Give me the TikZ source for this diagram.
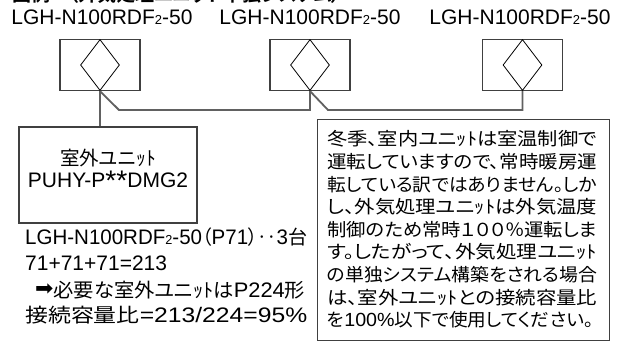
\documentclass[tikz,border=0pt]{standalone}
\usepackage{fontspec}
\usepackage{graphicx}
\setmainfont{Liberation Sans}
\newfontfamily\jp[RawFeature=+palt]{Noto Sans CJK JP}
\newfontfamily\jpb[RawFeature=+palt]{Noto Sans CJK JP Bold}
\newfontfamily\dv{DejaVu Sans}
\usetikzlibrary{shapes.geometric}
\newcommand\J[1]{{\jp\fontsize{19.5pt}{24pt}\selectfont #1}}
\newcommand\NJ[1]{{\jp\fontsize{18pt}{22pt}\selectfont #1}}
\newcommand\subtwo{{\fontsize{13pt}{13pt}\selectfont 2}}
\newcommand\myast{\raisebox{-0.3ex}{\scalebox{1.35}{*}}}
\newcommand\fitw[2]{\resizebox{#1}{\height}{#2}}
\tikzset{
  iu/.style={draw=black!75,line width=1.2pt,minimum width=80pt,minimum height=51pt,inner sep=0pt},
  dia/.style={diamond,draw=black,line width=0.8pt,minimum width=39pt,minimum height=51pt,inner sep=0pt},
  box/.style={draw=black!75,line width=1.2pt,inner sep=0pt},
  conn/.style={draw=black!62,line width=1.8pt},
  lbl/.style={inner sep=0pt,font=\fontsize{21pt}{25pt}\selectfont},
  ntxt/.style={inner sep=0pt,anchor=base west},
}
\begin{document}
\begin{tikzpicture}[x=1pt,y=-1pt]
\useasboundingbox[fill=white] (0,0) rectangle (624,345);
\begin{scope}
  \clip (0,0) rectangle (624,345);
  \node[inner sep=0pt,anchor=base west] (hdr) at (12,1.2)
    {{\jpb\fontsize{19pt}{22pt}\selectfont 図例　（外気処理ユニット単独システム）}};
\end{scope}
% model labels
\node[lbl,anchor=base] (l1) at (102,25) {LGH-N100RDF\subtwo-50};
\node[lbl,anchor=base] (l2) at (310,25) {LGH-N100RDF\subtwo-50};
\node[lbl,anchor=base] (l3) at (520,25) {LGH-N100RDF\subtwo-50};
% indoor units
\node[iu] (iu1) at (100,65) {};
\node[iu] (iu2) at (310,65) {};
\node[iu] (iu3) at (522.5,65) {};
\node[dia] (d1) at (iu1.center) {};
\node[dia] (d2) at (iu2.center) {};
\node[dia] (d3) at (iu3.center) {};
% outdoor unit
\node[box,minimum width=178pt,minimum height=96pt] (ou) at (108,175) {};
\node[inner sep=0pt,anchor=base] (ou1) at (108,165.4) {\J{室外ユニｯﾄ}};
\node[lbl,anchor=base] (ou2) at (108,187.5) {PUHY-P\myast\myast DMG2};
% connectors
\coordinate (k1) at (119,110);
\coordinate (k2) at (328,110);
\draw[conn] (iu1.south) -- (iu1.south |- ou.north);
\draw[conn] (iu1.south) -- (k1) -| (iu2.south);
\draw[conn] (iu2.south) -- (k2) -| (iu3.south);
% calculation text
\node[lbl,anchor=base west] (c1) at (25,244.5)
  {\fitw{282pt}{LGH-N100RDF\subtwo-50\J{（}P71\J{）‥}3\J{台}}};
\node[lbl,anchor=base west] (c2) at (25,270.5) {71+71+71=213};
\node[lbl,anchor=base west] (c3) at (35,297)
  {\fitw{270pt}{{\dv\fontsize{21pt}{24pt}\selectfont\raisebox{0.1ex}{➡}}\J{必要な室外ユニｯﾄは}P224\J{形}}};
\node[lbl,anchor=base west] (c4) at (25,322)
  {\fitw{282pt}{\J{接続容量比}=213/224=95\%}};
% note box
\node[box,anchor=north west,minimum width=292pt,minimum height=221pt] (nb) at (317,119) {};
\node[ntxt] (n1) at (327,145.8) {\fitw{270pt}{\NJ{冬季、室内ユニｯﾄは室温制御で}}};
\node[ntxt] (n2) at (327,168.4) {\fitw{270pt}{\NJ{運転していますので、常時暖房運}}};
\node[ntxt] (n3) at (327,191.0) {\fitw{270pt}{\NJ{転している訳ではありません。しか}}};
\node[ntxt] (n4) at (327,213.6) {\fitw{270pt}{\NJ{し、外気処理ユニｯﾄは外気温度}}};
\node[ntxt] (n5) at (327,236.2) {\fitw{270pt}{\NJ{制御のため常時１００％運転しま}}};
\node[ntxt] (n6) at (327,258.8) {\fitw{270pt}{\NJ{す。したがって、外気処理ユニｯﾄ}}};
\node[ntxt] (n7) at (327,281.4) {\fitw{270pt}{\NJ{の単独システム構築をされる場合}}};
\node[ntxt] (n8) at (327,304.0) {\fitw{270pt}{\NJ{は、室外ユニｯﾄとの接続容量比}}};
\node[ntxt] (n9) at (327,326.6) {\fitw{266pt}{\NJ{を}{\fontsize{19pt}{22pt}\selectfont 100\%}\NJ{以下で使用してください。}}};
\end{tikzpicture}
\end{document}
